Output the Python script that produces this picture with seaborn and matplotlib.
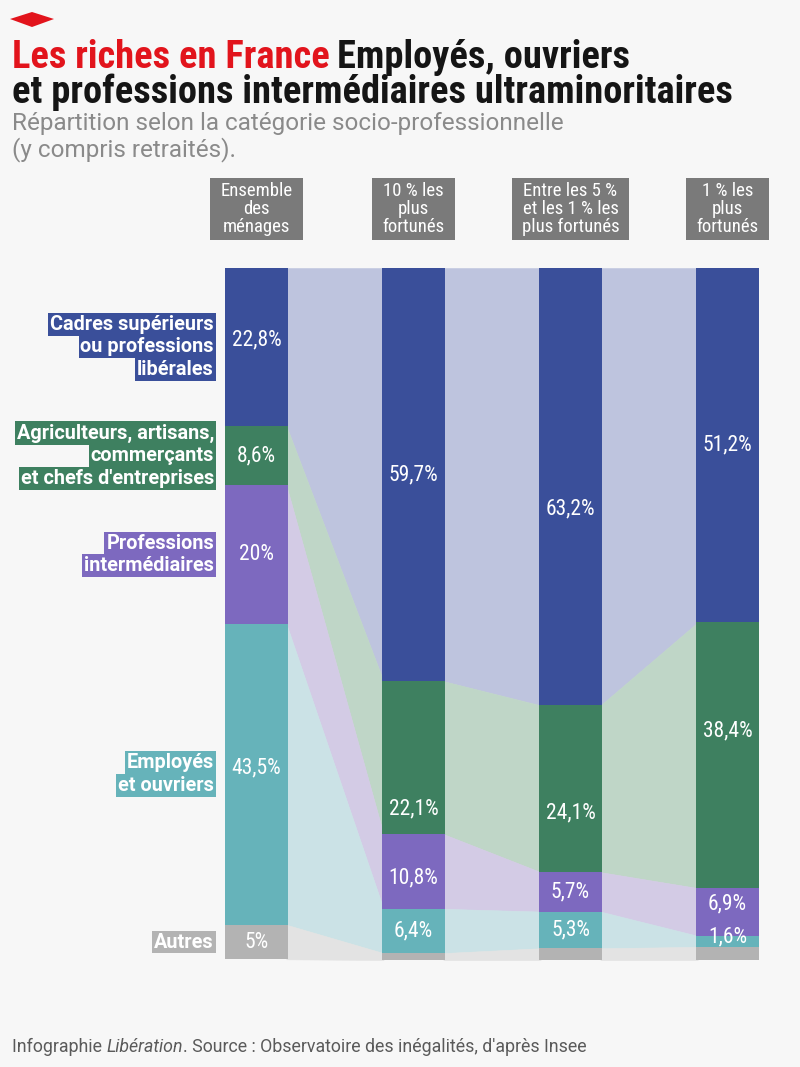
import matplotlib
matplotlib.use("Agg")
import matplotlib.pyplot as plt
import matplotlib.transforms as mtransforms
from matplotlib import font_manager
from matplotlib.patches import Polygon, Rectangle
import seaborn as sns
import numpy as np
import pandas as pd

# ---------------- data ----------------
groups = ["Ensemble des ménages", "10 % les plus fortunés",
          "Entre les 5 % et les 1 % les plus fortunés", "1 % les plus fortunés"]
group_headers = ["Ensemble\ndes\nménages", "10 % les\nplus\nfortunés",
                 "Entre les 5 %\net les 1 % les\nplus fortunés", "1 % les\nplus\nfortunés"]
categories = ["Cadres supérieurs ou professions libérales",
              "Agriculteurs, artisans, commerçants et chefs d'entreprises",
              "Professions intermédiaires", "Employés et ouvriers", "Autres"]
category_lines = [["Cadres supérieurs", "ou professions", "libérales"],
                  ["Agriculteurs, artisans,", "commerçants", "et chefs d'entreprises"],
                  ["Professions", "intermédiaires"],
                  ["Employés", "et ouvriers"],
                  ["Autres"]]
cadres = [22.8, 59.7, 63.2, 51.2]
agriculteurs = [8.6, 22.1, 24.1, 38.4]
prof_inter = [20.0, 10.8, 5.7, 6.9]
employes = [43.5, 6.4, 5.3, 1.6]
autres = [5.0, 1.0, 1.7, 1.9]
autres_labeled = [True, False, False, False]

series = [cadres, agriculteurs, prof_inter, employes, autres]

# ---------------- styles ----------------
bar_colors = ["#3a4f9a", "#3e8060", "#7d69bf", "#66b3ba", "#b3b3b3"]
band_colors = ["#bec4de", "#bfd6c7", "#d3cbe5", "#cbe2e6", "#e3e3e3"]
BG = "#f7f7f7"
# vertical nudges (pixels, downward) of some value labels, as in the original layout
label_nudge_px = {(0, 0): -7, (0, 2): 22, (1, 1): 51, (1, 2): 24, (1, 3): -24,
                  (2, 1): 7, (2, 3): -8, (3, 0): -6, (3, 3): -4}

available = {f.name for f in font_manager.fontManager.ttflist}
def pick(*names):
    for n in names:
        if n in available:
            return n
    return "DejaVu Sans"
COND = pick("Roboto Condensed", "Liberation Sans Narrow", "DejaVu Sans Condensed", "Roboto")
LABEL = pick("Roboto", "Inter", "Lato", "DejaVu Sans")
SUB = pick("Roboto", "Liberation Sans", "DejaVu Sans")

sns.set_theme(style="white")
plt.rcParams["font.family"] = [LABEL, "DejaVu Sans"]

W, H = 800, 1067
fig = plt.figure(figsize=(W / 100, H / 100), dpi=100, facecolor=BG)
renderer = fig.canvas.get_renderer()

def fx(x):
    return x / W
def fy(y):
    return 1 - y / H

ax = fig.add_axes([fx(225), fy(960), 534 / W, 692 / H])
ax.set_facecolor(BG)

bw = 63 / 157
arr = np.array(series)
ends = np.cumsum(arr, axis=0)
tops = np.vstack([np.zeros(arr.shape[1]), ends[:-1]])

# connecting bands between bars
eps = 0.01
for k in range(len(series)):
    for i in range(len(groups) - 1):
        ax.fill_between([i + bw / 2 - eps, i + 1 - bw / 2 + eps],
                        [tops[k][i], tops[k][i + 1]],
                        [ends[k][i], ends[k][i + 1]],
                        facecolor=band_colors[k], edgecolor=band_colors[k],
                        linewidth=0.4, zorder=1)

# stacked bars drawn as layered cumulative bars
for k in range(len(series) - 1, -1, -1):
    df = pd.DataFrame({"group": groups, "end": ends[k]})
    sns.barplot(data=df, x="group", y="end", color=bar_colors[k], saturation=1,
                width=bw, errorbar=None, ax=ax, zorder=2, linewidth=0)

ax.set_xlim(-0.2, 3.2)
ax.set_ylim(100, 0)
ax.axis("off")

# value labels
for k, vals in enumerate(series):
    for i, v in enumerate(vals):
        if k == len(series) - 1 and not autres_labeled[i]:
            continue
        txt = f"{v:g}".replace(".", ",") + "%"
        yc = (tops[k][i] + ends[k][i]) / 2
        t = mtransforms.offset_copy(ax.transData, fig=fig, x=0,
                                    y=-label_nudge_px.get((k, i), 0), units="dots")
        ax.text(i, yc, txt, transform=t, ha="center", va="center", color="white",
                fontsize=15.5, family=COND, zorder=5)

# category labels (left, one box per line)
trans = mtransforms.blended_transform_factory(fig.transFigure, ax.transData)
line_h = 22.5
for k, lines in enumerate(category_lines):
    yc = (tops[k][0] + ends[k][0]) / 2
    n = len(lines)
    for j, line in enumerate(lines):
        off = -((j - (n - 1) / 2) * line_h)
        t = mtransforms.offset_copy(trans, fig=fig, x=0, y=off, units="dots")
        ax.text(fx(214), yc, line, transform=t, ha="right", va="center",
                color="white", fontsize=14.3, fontweight="bold", family=LABEL,
                bbox=dict(boxstyle="square,pad=0.1", fc=bar_colors[k], ec="none"),
                zorder=6, clip_on=False)

# column headers with grey boxes
for i, h in enumerate(group_headers):
    xc = 256.5 + 157 * i
    th = fig.text(fx(xc), fy(209), h, ha="center", va="center", color="white",
                  fontsize=13.5, family=COND, linespacing=1.0,
                  multialignment="center", zorder=3)
    e = th.get_window_extent(renderer)
    x0, x1 = e.x0 - 10, e.x1 + 10
    fig.patches.append(Rectangle((x0 / W, fy(240)), (x1 - x0) / W, 62 / H,
                                 transform=fig.transFigure, fc="#7a7a7a", ec="none",
                                 zorder=2))

# title
TITLE = COND
t2 = fig.text(fx(12), fy(103), "et professions intermédiaires ultraminoritaires",
              ha="left", va="baseline", color="#151515", fontsize=26,
              fontweight="bold", family=TITLE)
w = t2.get_window_extent(renderer).width
tsize = 26 * 722 / w
t2.set_fontsize(tsize)
t1 = fig.text(fx(12), fy(68), "Les riches en France", ha="left", va="baseline",
              color="#e2141c", fontsize=tsize, fontweight="bold", family=TITLE)
e1 = t1.get_window_extent(renderer)
fig.text(e1.x1 / W + fx(7), fy(68), "Employés, ouvriers", ha="left", va="baseline",
         color="#151515", fontsize=tsize, fontweight="bold", family=TITLE)

# subtitle
s1 = fig.text(fx(12), fy(130), "Répartition selon la catégorie socio-professionnelle",
              ha="left", va="baseline", color="#8a8a8a", fontsize=15, family=SUB)
sw = s1.get_window_extent(renderer).width
ssize = 15 * 553 / sw
s1.set_fontsize(ssize)
fig.text(fx(12), fy(156), "(y compris retraités).", ha="left", va="baseline",
         color="#8a8a8a", fontsize=ssize, family=SUB)

# source line
src_parts = [("Infographie ", "normal"), ("Libération", "italic"),
             (". Source : Observatoire des inégalités, d'après Insee", "normal")]
x = fx(12)
for txt, st in src_parts:
    tt = fig.text(x, fy(1052), txt, ha="left", va="baseline", color="#5a5a5a",
                  fontsize=12.8, style=st, family=SUB)
    x = tt.get_window_extent(renderer).x1 / W

# red diamond logo
fig.patches.append(Polygon([[fx(10), fy(19)], [fx(32), fy(12)], [fx(54), fy(19)], [fx(32), fy(27)]],
                           closed=True, transform=fig.transFigure, fc="#e2141c", ec="none"))

fig.savefig("out.png", dpi=100, facecolor=BG)
